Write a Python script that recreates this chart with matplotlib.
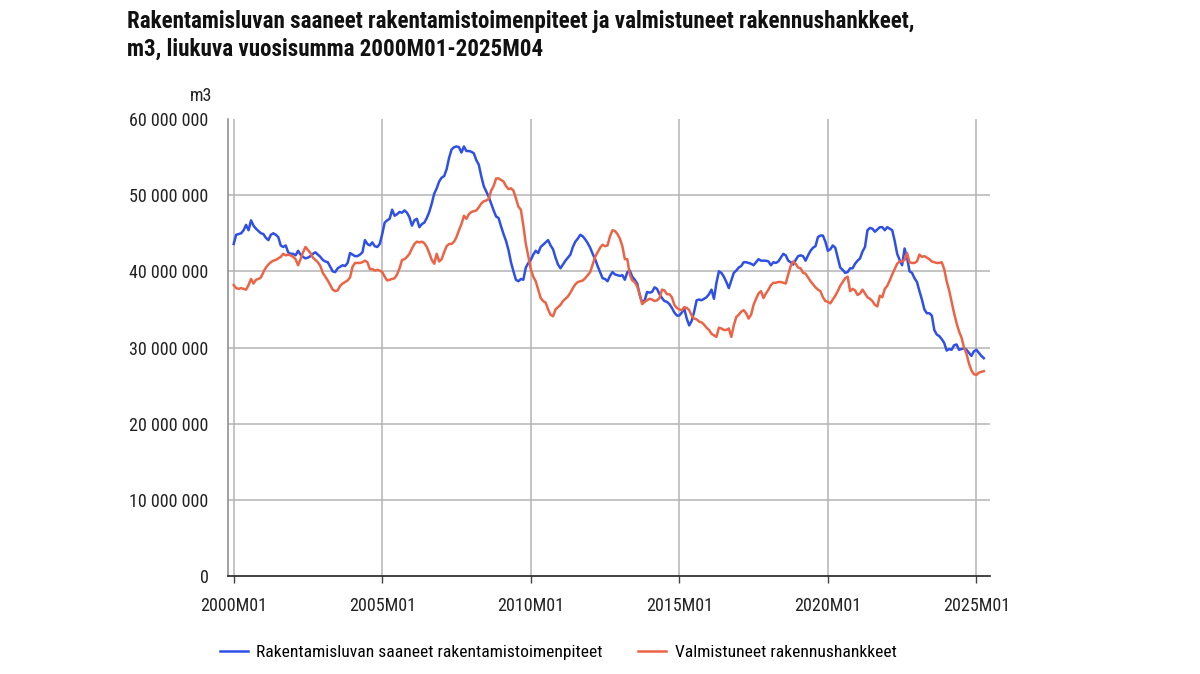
import numpy as np
import matplotlib.pyplot as plt
from matplotlib import font_manager
from matplotlib.ticker import FuncFormatter

title = ("Rakentamisluvan saaneet rakentamistoimenpiteet ja valmistuneet rakennushankkeet,\n"
         "m3, liukuva vuosisumma 2000M01-2025M04")
unit_label = "m3"
series_names = ["Rakentamisluvan saaneet rakentamistoimenpiteet",
                "Valmistuneet rakennushankkeet"]
series_colors = ["#2f50e6", "#ec6446"]

# month labels 2000M01 .. 2025M04
months = [f"{y}M{m:02d}" for y in range(2000, 2026) for m in range(1, 13)][:304]
tick_labels = ["2000M01", "2005M01", "2010M01", "2015M01", "2020M01", "2025M01"]
y_ticks = [0, 10e6, 20e6, 30e6, 40e6, 50e6, 60e6]

# moving annual sums, million m3, one row per year
luvat = [
    43.6, 44.8, 44.9, 45.0, 45.4, 46.1, 45.4, 46.7, 46.0, 45.6, 45.3, 45.0,
    44.9, 44.4, 44.1, 44.8, 45.0, 44.8, 44.5, 43.4, 43.2, 43.4, 42.5, 42.3,
    42.3, 42.1, 42.7, 42.2, 41.9, 41.7, 41.8, 42.0, 42.3, 42.5, 42.2, 41.9,
    41.5, 41.3, 41.2, 40.6, 40.0, 39.9, 40.4, 40.6, 40.8, 40.7, 41.1, 42.4,
    42.2, 42.0, 42.0, 42.2, 42.5, 44.1, 43.6, 43.4, 43.8, 43.3, 43.2, 43.6,
    44.9, 46.4, 46.7, 46.9, 48.1, 47.3, 47.5, 47.8, 47.7, 48.0, 47.7, 47.1,
    46.0, 46.7, 46.9, 45.8, 46.2, 46.4, 47.0, 47.8, 48.9, 50.2, 50.9, 51.8,
    52.3, 52.5, 53.4, 54.9, 56.0, 56.3, 56.4, 56.3, 55.6, 56.4, 55.8, 55.8,
    55.7, 55.5, 54.6, 54.0, 52.5, 51.2, 50.5, 49.8, 48.9, 48.0, 47.2, 47.0,
    45.9, 44.9, 44.0, 42.8, 41.2, 40.0, 38.9, 38.7, 39.0, 38.9, 40.5, 41.1,
    41.5, 42.2, 42.7, 42.4, 43.2, 43.5, 43.8, 44.1, 43.4, 42.9, 41.8, 40.9,
    40.4, 40.9, 41.4, 41.8, 42.2, 43.2, 43.9, 44.3, 44.8, 44.6, 44.2, 43.7,
    43.1, 42.3, 41.6, 40.7, 39.9, 39.1, 39.0, 38.7, 39.4, 39.9, 39.6, 39.5,
    39.4, 39.5, 38.9, 39.9, 40.1, 39.3, 38.9, 38.4, 36.9, 35.9, 36.2, 37.3,
    37.2, 37.3, 37.9, 37.7, 37.0, 36.5, 36.1, 36.0, 35.7, 35.2, 34.6, 34.2,
    34.2, 34.6, 35.1, 33.8, 32.9, 33.5, 34.7, 36.2, 36.3, 36.2, 36.4, 36.6,
    37.0, 37.6, 36.4, 38.5, 40.0, 39.8, 39.3, 38.6, 37.8, 38.8, 39.8, 40.1,
    40.5, 40.7, 41.2, 41.2, 41.1, 41.0, 40.8, 41.2, 41.6, 41.4, 41.4, 41.4,
    41.3, 40.8, 41.2, 41.1, 41.3, 41.8, 42.3, 42.1, 41.4, 41.2, 40.9, 41.5,
    42.0, 42.1, 42.0, 41.4, 42.1, 42.7, 43.1, 43.3, 44.5, 44.7, 44.7, 43.9,
    42.7, 42.9, 43.4, 43.1, 41.8, 40.5, 40.2, 39.8, 39.9, 40.4, 40.4, 41.0,
    41.4, 41.7, 42.6, 43.2, 45.4, 45.7, 45.6, 45.2, 45.5, 45.8, 45.8, 45.4,
    45.8, 45.6, 45.4, 44.0, 42.3, 41.5, 40.8, 43.0, 41.8, 40.0, 39.8, 39.1,
    38.6, 37.4, 36.3, 35.0, 34.5, 34.5, 34.2, 32.3, 31.7, 31.5, 31.1, 30.6,
    29.6, 29.8, 29.7, 30.3, 30.4, 29.7, 29.8, 29.9, 29.7, 29.3, 28.9, 29.5,
    29.7, 29.3, 28.9, 28.6,
]
valmistuneet = [
    38.2, 37.8, 37.7, 37.8, 37.7, 37.6, 38.2, 39.0, 38.4, 38.9, 39.0, 39.2,
    39.9, 40.5, 40.9, 41.2, 41.4, 41.5, 41.7, 41.9, 42.3, 42.1, 42.2, 42.1,
    41.9, 41.6, 40.8, 41.6, 42.5, 43.2, 42.8, 42.4, 41.8, 41.5, 41.2, 40.7,
    39.8, 39.3, 38.8, 38.2, 37.6, 37.4, 37.5, 38.1, 38.4, 38.6, 38.8, 39.2,
    40.6, 41.1, 41.1, 41.1, 41.2, 41.4, 41.2, 40.3, 40.3, 40.1, 40.2, 40.1,
    39.9, 39.3, 38.8, 38.9, 39.0, 39.1, 39.6, 40.4, 41.5, 41.6, 41.9, 42.3,
    43.0, 43.6, 43.9, 43.8, 43.9, 43.7, 43.2, 42.4, 41.5, 41.0, 42.3, 41.3,
    41.6, 42.5, 43.3, 43.6, 43.6, 43.9, 44.5, 45.4, 46.2, 47.3, 46.9, 47.5,
    47.8, 47.9, 48.0, 48.4, 48.9, 49.2, 49.3, 49.5, 50.6, 51.2, 52.2, 52.2,
    52.0, 51.8, 51.2, 50.8, 50.9, 50.6, 49.6, 48.5, 48.1, 46.0, 43.6, 42.0,
    40.3, 39.3, 38.7, 37.6, 36.5, 36.1, 35.9, 35.0, 34.3, 34.1, 35.0, 35.3,
    35.6, 36.1, 36.4, 36.7, 37.2, 37.8, 38.3, 38.6, 38.7, 38.8, 39.1, 39.5,
    39.9, 40.9, 41.9, 42.5, 43.1, 43.5, 43.3, 43.4, 44.6, 45.4, 45.3, 44.9,
    44.3, 43.3, 41.6, 41.6, 39.6, 38.8, 38.6, 38.0, 37.0, 35.7, 36.0, 36.2,
    36.4, 36.3, 36.1, 36.2, 36.5, 37.6, 37.5, 37.0, 37.0, 36.6, 35.6, 35.2,
    35.0, 34.9, 35.3, 35.2, 34.9, 34.2, 33.8, 33.7, 33.4, 33.3, 33.0, 32.6,
    32.3, 31.8, 31.6, 31.4, 32.6, 32.5, 32.3, 32.3, 32.5, 31.4, 32.9, 34.0,
    34.3, 34.7, 34.9, 34.5, 33.8, 34.3, 35.6, 36.4, 37.1, 37.4, 36.5, 37.1,
    37.6, 38.2, 38.5, 38.5, 38.6, 38.6, 38.5, 38.4, 39.6, 40.7, 41.3, 41.0,
    40.5, 40.4, 39.8, 39.7, 39.2, 38.7, 38.3, 37.9, 37.6, 37.4, 36.6, 36.1,
    36.0, 35.8, 36.3, 36.8, 37.4, 38.1, 38.6, 39.1, 39.3, 37.4, 37.7, 37.5,
    36.9, 37.1, 37.6, 37.1, 36.6, 36.4, 36.1, 35.6, 35.4, 36.8, 36.6, 37.7,
    38.1, 38.8, 39.6, 40.3, 41.0, 41.3, 41.3, 41.5, 42.4, 41.2, 41.1, 41.1,
    41.3, 42.2, 41.9, 42.0, 41.8, 41.6, 41.3, 41.2, 41.1, 41.1, 41.2, 40.3,
    38.7, 37.5, 36.0, 34.5, 33.2, 32.1, 31.3, 30.0, 29.2, 27.9, 27.0, 26.5,
    26.4, 26.7, 26.8, 26.9,
]

# pick a narrow font if one is there
avail = {f.name for f in font_manager.fontManager.ttflist}
font = next((f for f in ["Roboto Condensed", "Liberation Sans Narrow", "Roboto"] if f in avail),
            "DejaVu Sans")
plt.rcParams["font.family"] = [font, "DejaVu Sans"]

fig = plt.figure(figsize=(12, 6.74), dpi=100)
ax = fig.add_axes([0.19, 0.1454, 0.635, 0.678])

x = np.arange(len(months))
ax.plot(x, np.array(luvat) * 1e6, color=series_colors[0], lw=1.8, label=series_names[0])
ax.plot(x, np.array(valmistuneet) * 1e6, color=series_colors[1], lw=1.8, label=series_names[1])

ax.set_xlim(-2.3, 305.5)
ax.set_ylim(0, 60e6)

tick_pos = [months.index(t) for t in tick_labels]
ax.set_xticks(tick_pos)
ax.set_xticklabels(tick_labels)
ax.set_yticks(y_ticks)
ax.yaxis.set_major_formatter(FuncFormatter(lambda v, p: f"{int(v):,}".replace(",", " ")))

# grid: horizontal lines without the top one, vertical at the year ticks
for v in y_ticks[1:-1]:
    ax.axhline(v, color="#b4b4b4", lw=1.1, zorder=0)
for p in tick_pos:
    ax.axvline(p, color="#b4b4b4", lw=1.1, zorder=0)

for s in ["top", "right"]:
    ax.spines[s].set_visible(False)
ax.spines["left"].set_color("#888888")
ax.spines["left"].set_linewidth(1.1)
ax.spines["bottom"].set_color("#222222")
ax.spines["bottom"].set_linewidth(1.2)

ax.tick_params(axis="y", length=0, pad=14, labelsize=13, labelcolor="#222222")
ax.tick_params(axis="x", length=5, width=1, color="#444444", pad=10, labelsize=13,
               labelcolor="#222222")

fig.text(212 / 1200, 1 - 96 / 674, unit_label, ha="right", va="center", fontsize=13,
         color="#222222")
fig.text(127 / 1200, 1 - 10 / 674, title, ha="left", va="top", fontsize=16.6,
         fontweight="bold", linespacing=1.28, color="#111111")

fig.legend(loc="center", bbox_to_anchor=(0.465, 1 - 652 / 674), ncol=2, frameon=False,
           fontsize=12.6, handlelength=1.6, columnspacing=2.0, handletextpad=0.5)

fig.savefig("out.png", dpi=100)
